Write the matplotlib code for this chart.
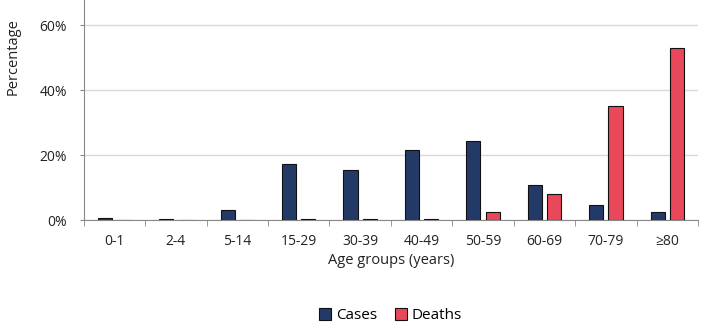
import matplotlib
matplotlib.use("Agg")
import matplotlib.pyplot as plt
import numpy as np
from matplotlib.ticker import FuncFormatter, MultipleLocator

categories = ["0-1", "2-4", "5-14", "15-29", "30-39", "40-49", "50-59", "60-69", "70-79", "≥80"]
cases = [0.5, 0.3, 3.0, 17.2, 15.4, 21.5, 24.3, 10.8, 4.6, 2.5]
deaths = [0.0, 0.0, 0.0, 0.3, 0.3, 0.3, 2.5, 8.0, 35.1, 52.9]

plt.rcParams['font.family'] = ['Open Sans', 'DejaVu Sans']

fig = plt.figure(figsize=(7.1, 3.35), dpi=100)
ax = fig.add_axes([0.118, 0.343, 0.865, 0.657])

x = np.arange(len(categories))
w = 0.23
off = 0.157
ax.bar(x - off, cases, w, color="#243a66", edgecolor="#111111", linewidth=0.8, label="Cases", zorder=3)
ax.bar(x + off, deaths, w, color="#e8485a", edgecolor="#111111", linewidth=0.8, label="Deaths", zorder=3)

ax.set_xlim(-0.5, len(categories) - 0.5)
ax.set_ylim(0, 67.7)
ax.yaxis.set_major_locator(MultipleLocator(20))
ax.yaxis.set_major_formatter(FuncFormatter(lambda v, p: f"{v:.0f}%"))
ax.grid(axis="y", color="#d9d9d9", linewidth=1, zorder=0)
ax.set_axisbelow(True)

ax.set_xticks(x)
ax.set_xticklabels(categories)
ax.set_xticks(np.arange(-0.5, len(categories)), minor=True)
ax.tick_params(axis="x", which="major", length=0, labelsize=10, colors="#222222", pad=10)
ax.tick_params(axis="x", which="minor", length=4, color="#888888")
ax.tick_params(axis="y", length=3, color="#888888", labelsize=10, labelcolor="#222222", pad=9)

for s in ["top", "right"]:
    ax.spines[s].set_visible(False)
ax.spines["left"].set_color("#888888")
ax.spines["bottom"].set_color("#888888")

ax.set_xlabel("Age groups (years)", fontsize=10.5, color="#222222", labelpad=3)
fig.text(0.018, 0.83, "Percentage", rotation=90, fontsize=10.5, color="#222222", ha="center", va="center")

fig.legend(loc="center", bbox_to_anchor=(0.55, 0.057), ncol=2, frameon=False, fontsize=11,
           handlelength=0.8, handleheight=0.8, handletextpad=0.3, columnspacing=1.2)

fig.savefig("out.png", dpi=100)
